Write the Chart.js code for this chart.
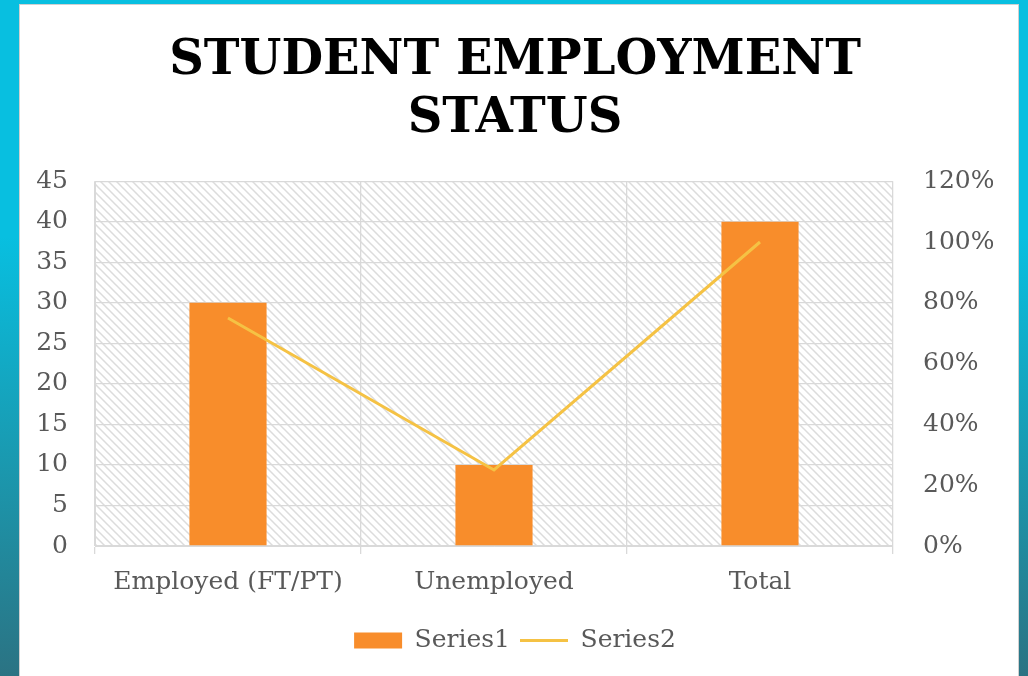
<!DOCTYPE html>
<html>
<head>
<meta charset="utf-8">
<script src="https://cdn.jsdelivr.net/npm/chart.js@4"></script>
<style>
  html, body { margin: 0; padding: 0; }
  body {
    width: 1028px; height: 676px; overflow: hidden;
    background: linear-gradient(to bottom, #08bfe0 0%, #08bfe0 35%, #1b97ad 70%, #2b7383 100%);
    position: relative;
  }
  #panel {
    position: absolute; left: 20px; top: 5px; width: 998px; height: 671px;
    background: #fff; box-shadow: 0 0 0 1px #d0d0d0;
  }
</style>
</head>
<body>
<div id="panel"><canvas id="chart"></canvas></div>
<script>
var categories = ['Employed (FT/PT)', 'Unemployed', 'Total'];
var series1 = [30, 10, 40];
var series2 = [0.75, 0.25, 1.0];
var titleLines = ['STUDENT EMPLOYMENT', 'STATUS'];

var tickFont = { family: 'DejaVu Serif', size: 25 };
var gray = '#595959';
var gridGray = '#d9d9d9';

// diagonal hatch for the plot area
function makeHatch() {
	var c = document.createElement('canvas');
	c.width = 8;
	c.height = 8;
	var g = c.getContext('2d');
	g.fillStyle = '#fff';
	g.fillRect(0, 0, 8, 8);
	g.strokeStyle = '#dcdcdc';
	g.lineWidth = 1.5;
	g.beginPath();
	g.moveTo(-2, -2); g.lineTo(10, 10);
	g.moveTo(-2, 6); g.lineTo(2, 10);
	g.moveTo(6, -2); g.lineTo(10, 2);
	g.stroke();
	return g.createPattern(c, 'repeat');
}

var hatchPlugin = {
	id: 'hatch',
	beforeDraw: function (chart) {
		var a = chart.chartArea;
		var ctx = chart.ctx;
		ctx.save();
		ctx.fillStyle = makeHatch();
		ctx.fillRect(a.left, a.top, a.right - a.left, a.bottom - a.top);
		ctx.restore();
	},
};

var ctx = document.getElementById('chart').getContext('2d');
var chart = new Chart(ctx, {
	type: 'bar',
	data: {
		labels: categories,
		datasets: [
			{
				type: 'line',
				label: 'Series2',
				data: series2,
				yAxisID: 'y2',
				borderColor: '#f5c244',
				backgroundColor: '#f5c244',
				borderWidth: 3,
				pointRadius: 0,
				pointStyle: 'line',
				tension: 0,
				order: 0,
			},
			{
				label: 'Series1',
				data: series1,
				yAxisID: 'y',
				backgroundColor: '#f88d2b',
				borderWidth: 0,
				barPercentage: 0.58,
				categoryPercentage: 0.5,
				pointStyle: 'rect',
				order: 1,
			},
		],
	},
	options: {
		responsive: true,
		maintainAspectRatio: false,
		animation: false,
		layout: { padding: { left: 17, right: 25, bottom: 13, top: 0 } },
		plugins: {
			title: {
				display: true,
				text: titleLines,
				color: '#000',
				font: { family: 'DejaVu Serif', size: 48, weight: 'bold', lineHeight: 1.2 },
				padding: { top: 28, bottom: 33 },
			},
			legend: {
				position: 'bottom',
				reverse: true,
				labels: {
					color: gray,
					font: tickFont,
					usePointStyle: true,
					pointStyleWidth: 48,
					boxHeight: 16,
					padding: 10,
				},
			},
			tooltip: { enabled: false },
		},
		scales: {
			x: {
				grid: { color: gridGray, offset: true, tickLength: 8, lineWidth: 1.3 },
				border: { color: gridGray },
				ticks: { color: gray, font: tickFont, padding: 13, maxRotation: 0 },
				afterFit: function (s) { s.height = 72; },
			},
			y: {
				position: 'left',
				min: 0,
				max: 45,
				grid: { color: gridGray, drawTicks: false, lineWidth: 1.3 },
				border: { color: gridGray },
				ticks: { color: gray, font: tickFont, stepSize: 5, padding: 27 },
				afterFit: function (s) { s.width = 58; },
			},
			y2: {
				position: 'right',
				min: 0,
				max: 1.2,
				grid: { display: false, drawTicks: false },
				border: { display: false },
				ticks: {
					color: gray,
					font: tickFont,
					stepSize: 0.2,
					padding: 30,
					callback: function (v) { return Math.round(v * 100) + '%'; },
				},
				afterFit: function (s) { s.width = 100; },
			},
		},
	},
	plugins: [hatchPlugin],
});
</script>
</body>
</html>
